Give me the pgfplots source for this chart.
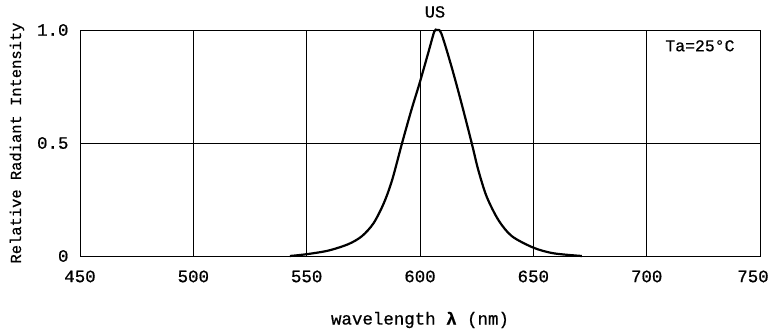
\documentclass[border=0pt]{standalone}
\usepackage{fontspec}
\setmainfont{Liberation Mono}[FakeBold=0.7]
\usepackage{pgfplots}
\pgfplotsset{compat=1.18}
\begin{document}
\begin{tikzpicture}
\useasboundingbox (-80bp,-76bp) rectangle (690bp,256bp);
\begin{axis}[
  at={(0,0)}, anchor=south west,
  scale only axis, width=680bp, height=226bp,
  xmin=450, xmax=750, ymin=0, ymax=1,
  xtick={450,500,...,750}, ytick={0,0.5,1},
  xticklabels={450,500,550,600,650,700,\hspace*{-14bp}750},
  yticklabels={0,0.5,1.0},
  xticklabel style={font=\fontsize{17.5}{17.5}\selectfont},
  yticklabel style={font=\fontsize{17.5}{17.5}\selectfont},
  /pgf/number format/assume math mode=true,
  major tick length=0pt,
  grid=major, grid style={black, line width=0.8bp},
  axis line style={black, line width=0.8bp},
  xticklabel shift=11bp, yticklabel shift=8bp,
  clip=false,
]
\addplot[black, line width=2.2bp, smooth, tension=0.5] coordinates {
(542.6,0.000) (550,0.008) (559.6,0.024) (568.5,0.053) (574.4,0.088)
(579.5,0.145) (584,0.233) (587.7,0.336) (592.1,0.500) (596.2,0.646)
(600,0.771) (604,0.912) (606.3,0.993) (607.5,1.000) (609.4,0.985)
(613.9,0.838) (618.3,0.676) (622.8,0.500) (625.7,0.381) (629.4,0.263)
(634.6,0.159) (640.5,0.088) (650,0.037) (658.9,0.012) (671.4,0.000)
};
\node[font=\fontsize{17}{17}\selectfont] at (axis cs:606.6,1.08) {US};
\node[font=\fontsize{16.5}{16.5}\selectfont] at (axis cs:723.5,0.93) {Ta=25°C};
\end{axis}
\node[rotate=90, font=\fontsize{15.5}{15.5}\selectfont] at (-63bp,113bp) {Relative Radiant Intensity};
\node[font=\fontsize{17.5}{17.5}\selectfont] at (340bp,-64bp) {wavelength \textbf{λ} (nm)};
\end{tikzpicture}
\end{document}
